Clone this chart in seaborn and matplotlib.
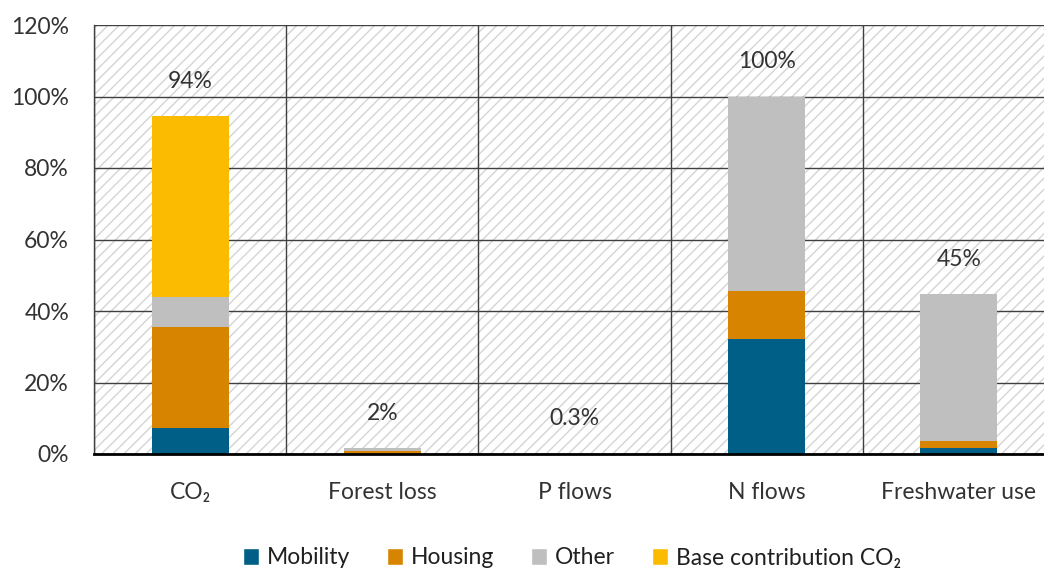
import matplotlib
matplotlib.use("Agg")
import matplotlib.pyplot as plt
from matplotlib.patches import Rectangle
import numpy as np
import pandas as pd
import seaborn as sns

categories = ["CO₂", "Forest loss", "P flows", "N flows", "Freshwater use"]
mobility = [7.2, 0.1, 0.0, 32.2, 1.7]
housing = [28.3, 0.6, 0.05, 13.4, 1.9]
other = [8.4, 0.9, 0.25, 54.4, 41.2]
base_co2 = [50.6, 0.0, 0.0, 0.0, 0.0]
total_labels = ["94%", "2%", "0.3%", "100%", "45%"]

series_names = ["Mobility", "Housing", "Other", "Base contribution CO₂"]
series_colors = ["#005f87", "#d78400", "#bfbfbf", "#fbbb00"]

sns.set_style("white")
plt.rcParams["font.family"] = ["Lato", "DejaVu Sans"]
plt.rcParams["hatch.linewidth"] = 1.0
plt.rcParams["hatch.color"] = "#d4d4d4"

df = pd.DataFrame({"category": categories,
                   "Mobility": mobility, "Housing": housing,
                   "Other": other, "Base contribution CO₂": base_co2})
cum = df[series_names].cumsum(axis=1)
cum["category"] = categories

fig = plt.figure(figsize=(10.44, 5.72), dpi=100)
ax = fig.add_axes([94 / 1044, 1 - 454 / 572, (1055 - 94) / 1044, (454 - 25) / 572])

# hatched background
ax.add_patch(Rectangle((0, 0), 1, 1, transform=ax.transAxes, facecolor="white",
                       hatch="///", edgecolor="#d4d4d4", linewidth=0, zorder=0.1))

# draw stacked bars top layer first
for name, col in reversed(list(zip(series_names, series_colors))):
    sns.barplot(data=cum, x="category", y=name, color=col, width=0.4,
                ax=ax, saturation=1, linewidth=0, zorder=2)

txt = "#333333"
totals = cum["Base contribution CO₂"].values
for i, (t, lab) in enumerate(zip(totals, total_labels)):
    ax.annotate(lab, (i, t), xytext=(0, 25), textcoords="offset points",
                ha="center", va="center", fontsize=16.5, color=txt)

ax.set_xlim(-0.5, 4.5)
ax.set_ylim(0, 120)
ax.set_yticks(np.arange(0, 121, 20))
ax.set_yticklabels([f"{v}%" for v in range(0, 121, 20)])
ax.set_xticks(range(5))
ax.set_xticklabels(categories)
ax.set_xticks(np.arange(-0.5, 5, 1), minor=True)
ax.set_xlabel("")
ax.set_ylabel("")
ax.tick_params(axis="x", which="major", length=0, pad=20, labelsize=16.5, labelcolor=txt)
ax.tick_params(axis="x", which="minor", length=6, width=1.5, color="black", direction="out")
ax.tick_params(axis="y", length=0, pad=18, labelsize=16.5, labelcolor=txt)

ax.set_axisbelow(True)
ax.grid(axis="y", color="#404040", linewidth=1)
ax.grid(axis="x", which="minor", color="#404040", linewidth=1)
ax.grid(axis="x", which="major", visible=False)
for s in ["top", "right"]:
    ax.spines[s].set_visible(False)
ax.spines["left"].set_color("#404040")
ax.spines["left"].set_linewidth(1)
ax.spines["bottom"].set_color("black")
ax.spines["bottom"].set_linewidth(2)
ax.spines["bottom"].set_zorder(3)

handles = [Rectangle((0, 0), 1, 1, facecolor=c) for c in series_colors]
fig.legend(handles, series_names, loc="center", bbox_to_anchor=(572 / 1044, 1 - 558 / 572),
           ncol=4, frameon=False, fontsize=16.5, handlelength=0.7, handleheight=0.7,
           handletextpad=0.35, columnspacing=1.6, labelcolor="#202020")

fig.savefig("out.png", dpi=100)
